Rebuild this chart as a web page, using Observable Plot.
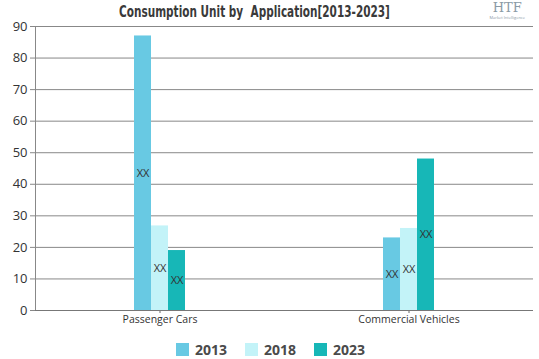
<!DOCTYPE html>
<html>
<head>
<meta charset="utf-8">
<script src="https://cdn.jsdelivr.net/npm/d3@7"></script>
<script src="https://cdn.jsdelivr.net/npm/@observablehq/plot@0.6"></script>
<style>
  body { margin: 0; background: #fff; width: 539px; height: 359px; overflow: hidden; font-family: "Open Sans", sans-serif; position: relative; }
  #title { height: 16px; line-height: 22px; text-align: center; padding-right: 30px; }
  #title span { display: inline-block; transform: scaleX(0.7); font-family: "DejaVu Sans", sans-serif; font-weight: bold; font-size: 15px; color: #3a3a3a; white-space: pre; }
  #logo { position: absolute; right: 14px; top: 1px; text-align: center; color: #8a9aa6; }
  #logo .big { font-family: "DejaVu Serif", serif; font-size: 13px; line-height: 14px; }
  #logo .small { font-size: 4px; line-height: 5px; }
  #legend { display: flex; justify-content: center; gap: 18px; margin-top: 8px; padding-left: 2px; font-weight: bold; font-size: 14px; color: #4a4a4a; }
  #legend .item { display: flex; align-items: center; gap: 6px; }
  #legend .sw { width: 13px; height: 13px; display: inline-block; }
</style>
</head>
<body>
<div id="title"><span>Consumption Unit by  Application[2013-2023]</span></div>
<div id="logo"><div class="big">HTF</div><div class="small">Market Intelligence</div></div>
<div id="chart"></div>
<div id="legend"></div>
<script>
const categories = ["Passenger Cars", "Commercial Vehicles"];
const years = ["2013", "2018", "2023"];
const colors = ["#68c9e3", "#c3f3f8", "#17b7b7"];
const values2013 = [87, 23];
const values2018 = [26.8, 26];
const values2023 = [19, 48];
const yTicks = [0, 10, 20, 30, 40, 50, 60, 70, 80, 90];
const labelText = "XX";

const seriesValues = [values2013, values2018, values2023];
const data = [];
categories.forEach((c, i) => {
  years.forEach((y, j) => data.push({category: c, year: y, value: seriesValues[j][i]}));
});

const chart = Plot.plot({
  width: 539,
  height: 316,
  marginTop: 10,
  marginLeft: 35,
  marginRight: 6,
  marginBottom: 22,
  style: {fontFamily: "'Open Sans', sans-serif", background: "#fff"},
  fx: {domain: categories, padding: 0, label: null},
  x: {domain: years, paddingInner: 0, paddingOuter: 5.44, axis: null},
  y: {domain: [0, 90], label: null},
  color: {domain: years, range: colors},
  marks: [
    Plot.gridY(yTicks, {stroke: "#888", strokeOpacity: 1, strokeWidth: 1}),
    Plot.axisY(yTicks, {tickSize: 5, tickPadding: 3, stroke: "#888", fontSize: 13, fill: "#333", label: null}),
    Plot.frame({anchor: "left", facetAnchor: "left", stroke: "#888"}),
    Plot.axisFx({anchor: "bottom", tickSize: 3, tickPadding: 2, fontSize: 10.5, fill: "#333", stroke: "#666", label: null}),
    Plot.barY(data, {fx: "category", x: "year", y: "value", fill: "year"}),
    Plot.ruleY([0], {stroke: "#777"}),
    Plot.text(data, {fx: "category", x: "year", y: d => d.value / 2, text: () => labelText, fontSize: 11, fill: "#333"})
  ]
});
document.getElementById("chart").appendChild(chart);

const legend = document.getElementById("legend");
years.forEach((y, i) => {
  const item = document.createElement("div");
  item.className = "item";
  const sw = document.createElement("span");
  sw.className = "sw";
  sw.style.background = colors[i];
  const t = document.createElement("span");
  t.textContent = y;
  item.appendChild(sw);
  item.appendChild(t);
  legend.appendChild(item);
});
</script>
</body>
</html>
